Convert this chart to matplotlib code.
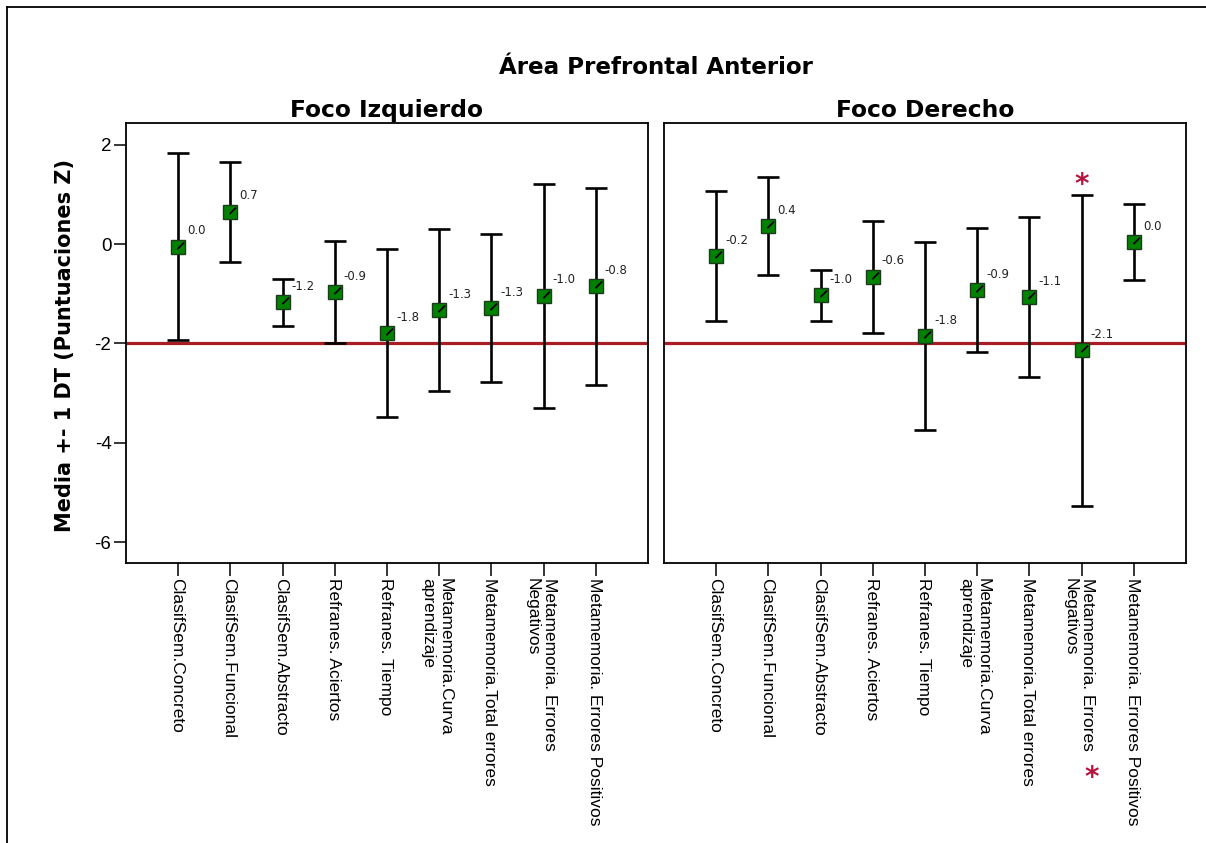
import matplotlib
matplotlib.use("Agg")
import matplotlib.pyplot as plt
from matplotlib.path import Path
from matplotlib.lines import Line2D

# ---------------- data ----------------
categories = [
    "ClasifSem.Concreto",
    "ClasifSem.Funcional",
    "ClasifSem.Abstracto",
    "Refranes. Aciertos",
    "Refranes. Tiempo",
    "Metamemoria.Curva\naprendizaje",
    "Metamemoria.Total errores",
    "Metamemoria. Errores\nNegativos",
    "Metamemoria. Errores Positivos",
]

left_mean = [-0.05, 0.65, -1.17, -0.97, -1.79, -1.33, -1.29, -1.04, -0.85]
left_sd = [1.88, 1.00, 0.47, 1.03, 1.69, 1.63, 1.49, 2.25, 1.98]
left_labels = ["0.0", "0.7", "-1.2", "-0.9", "-1.8", "-1.3", "-1.3", "-1.0", "-0.8"]

right_mean = [-0.24, 0.36, -1.03, -0.66, -1.85, -0.93, -1.07, -2.14, 0.04]
right_sd = [1.31, 0.99, 0.51, 1.12, 1.89, 1.25, 1.61, 3.13, 0.77]
right_labels = ["-0.2", "0.4", "-1.0", "-0.6", "-1.8", "-0.9", "-1.1", "-2.1", "0.0"]

panel_titles = ["Foco Izquierdo", "Foco Derecho"]
main_title = "Área Prefrontal Anterior"
y_label = "Media +- 1 DT (Puntuaciones Z)"
yticks = [2, 0, -2, -4, -6]
threshold = -2
significant_right = [7]  # index of significant category in right panel

# ---------------- figure ----------------
W, H = 1206, 843
fig = plt.figure(figsize=(W / 100, H / 100), dpi=100)
fig.patch.set_facecolor("white")

# outer frame (left and top lines)
fig.add_artist(Line2D([6.5 / W, 6.5 / W], [0, 1 - 6.5 / H], color="black", lw=1.3,
                      transform=fig.transFigure))
fig.add_artist(Line2D([6.5 / W, 1.0], [1 - 6.5 / H, 1 - 6.5 / H], color="black", lw=1.3,
                      transform=fig.transFigure))

ax_w = 522 / W
ax_h = 440 / H
ax_b = 1 - 563 / H
axL = fig.add_axes([126 / W, ax_b, ax_w, ax_h])
axR = fig.add_axes([664 / W, ax_b, ax_w, ax_h])

slash = Path([(-0.1, -0.15), (0.5, 0.45)], [Path.MOVETO, Path.LINETO])

tick_font = dict(family=["Liberation Sans", "DejaVu Sans"], size=12.5)

for ax, means, sds, labels, title in [
    (axL, left_mean, left_sd, left_labels, panel_titles[0]),
    (axR, right_mean, right_sd, right_labels, panel_titles[1]),
]:
    x = list(range(len(categories)))
    ax.axhline(threshold, color="#a81e24", lw=2.3, zorder=1)
    ax.errorbar(x, means, yerr=sds, fmt="none", ecolor="black", elinewidth=1.9,
                capsize=8, capthick=1.9, zorder=2)
    ax.plot(x, means, linestyle="none", marker="s", markersize=10,
            markerfacecolor="#008200", markeredgecolor="#1c3a1c", markeredgewidth=1.0,
            zorder=3)
    ax.plot(x, means, linestyle="none", marker=slash, markersize=8,
            markeredgecolor="black", markeredgewidth=1.3, zorder=4)
    for xi, m, lab in zip(x, means, labels):
        ax.annotate(lab, (xi, m), xytext=(6.5, 11.5), textcoords="offset points",
                    ha="left", va="center", fontsize=8.5, color="#222222",
                    family="DejaVu Sans", zorder=5)

    ax.set_xlim(-1, len(categories))
    ax.set_ylim(-6.42, 2.44)
    ax.set_xticks(x)
    ax.set_xticklabels(categories, rotation=-90, rotation_mode="anchor",
                       ha="left", va="center_baseline", multialignment="left",
                       fontdict=tick_font)
    ax.tick_params(axis="x", length=9, width=1.1, pad=1.5, direction="out")
    for sp in ax.spines.values():
        sp.set_linewidth(1.3)
    ax.set_title(title, fontsize=16.8, fontweight="bold", family="DejaVu Sans", pad=4)

axL.set_yticks(yticks)
axL.set_yticklabels([str(v) for v in yticks],
                    fontdict=dict(family=["Liberation Sans", "DejaVu Sans"], size=13.5))
axL.tick_params(axis="y", length=9, width=1.1, pad=1.5, direction="out")
axR.set_yticks([])

# significance asterisks on the right panel
for idx in significant_right:
    top = right_mean[idx] + right_sd[idx]
    axR.annotate("*", (idx, top), xytext=(0, -3), textcoords="offset points",
                 ha="center", va="bottom", fontsize=20, fontweight="bold",
                 color="#b5123e", family="DejaVu Sans")
    axR.annotate("*", (idx, 0), xycoords=("data", "axes fraction"),
                 xytext=(7.5, -154.5), textcoords="offset points",
                 ha="center", va="center", fontsize=20, fontweight="bold",
                 color="#b5123e", family="DejaVu Sans", annotation_clip=False)

fig.text(656 / W, 1 - 68 / H, main_title, ha="center", va="center",
         fontsize=16.6, fontweight="bold", family="DejaVu Sans")
fig.text(65 / W, 1 - 345 / H, y_label, ha="center", va="center", rotation=90,
         fontsize=15, fontweight="bold", family="DejaVu Sans")

fig.savefig("out.png", dpi=100, facecolor="white")
